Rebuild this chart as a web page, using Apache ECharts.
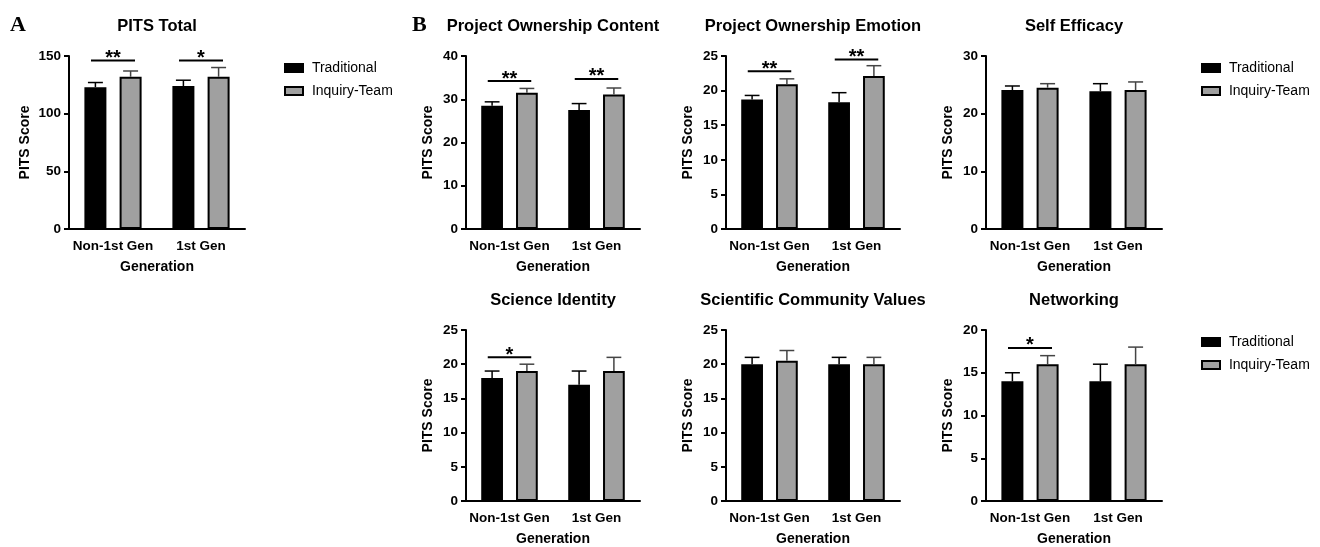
<!DOCTYPE html>
<html>
<head>
<meta charset="utf-8">
<script src="https://cdn.jsdelivr.net/npm/echarts@6/dist/echarts.min.js"></script>
<style>
  html, body { margin: 0; background: #fff; }
  #chart { width: 1320px; height: 547px; }
</style>
</head>
<body>
<div id="chart"></div>
<script>
const categories = ['Non-1st Gen', '1st Gen']
const panelTitles = ['PITS Total', 'Project Ownership Content', 'Project Ownership Emotion', 'Self Efficacy',
  'Science Identity', 'Scientific Community Values', 'Networking']
const tradMeans = [[123, 124], [28.5, 27.5], [18.7, 18.3], [24.1, 23.9], [18, 17], [20, 20], [14, 14]]
const tradErrors = [[4, 5], [0.9, 1.5], [0.6, 1.4], [0.7, 1.3], [1, 2], [1, 1], [1, 2]]
const inquiryMeans = [[132, 132], [31.5, 31.1], [20.9, 22.1], [24.5, 24.1], [19, 19], [20.5, 20], [16, 16]]
const inquiryErrors = [[5, 8], [1, 1.5], [0.8, 1.5], [0.7, 1.4], [1, 2], [1.5, 1], [1, 2]]
const yMax = [150, 40, 25, 30, 25, 25, 20]
const yStep = [50, 10, 5, 10, 5, 5, 5]
// significance brackets: label and height (in axis units) per category
const sigLabels = [['**', '*'], ['**', '**'], ['**', '**'], ['', ''], ['*', ''], ['', ''], ['*', '']]
const sigHeights = [[146, 146], [34.2, 34.7], [22.8, 24.5], [0, 0], [21, 0], [0, 0], [17.9, 0]]

const FONT = 'Liberation Sans, Arial, sans-serif'

// plot rectangles
const grids = [
  { left: 69, top: 56, width: 176, height: 173 },
  { left: 466, top: 56, width: 174, height: 173 },
  { left: 726, top: 56, width: 174, height: 173 },
  { left: 986, top: 56, width: 176, height: 173 },
  { left: 466, top: 330, width: 174, height: 174 },
  { left: 726, top: 330, width: 174, height: 174 },
  { left: 986, top: 330, width: 176, height: 174 }
]

const chart = echarts.init(document.getElementById('chart'))

const errorSeries = (i, means, errs, offset, color) => ({
  type: 'custom',
  xAxisIndex: i,
  yAxisIndex: i,
  z: 5,
  silent: true,
  data: means.map((m, k) => [k, m, errs[k]]),
  renderItem: (params, api) => {
    const base = api.coord([api.value(0), api.value(1)])
    const top = api.coord([api.value(0), api.value(1) + api.value(2)])
    const band = api.size([1, 0])[0]
    const x = base[0] + offset * band
    const cap = band * 0.085
    const style = { stroke: color, lineWidth: 1.5 }
    return {
      type: 'group',
      children: [
        { type: 'line', shape: { x1: x, y1: base[1], x2: x, y2: top[1] }, style },
        { type: 'line', shape: { x1: x - cap, y1: top[1], x2: x + cap, y2: top[1] }, style }
      ]
    }
  }
})

const bracketSeries = (i) => ({
  type: 'custom',
  xAxisIndex: i,
  yAxisIndex: i,
  z: 6,
  silent: true,
  data: sigLabels[i].map((lab, k) => [k, sigHeights[i][k], lab]).filter(d => d[2]),
  renderItem: (params, api) => {
    const p = api.coord([api.value(0), api.value(1)])
    const band = api.size([1, 0])[0]
    const half = band * 0.25
    return {
      type: 'group',
      children: [
        { type: 'line', shape: { x1: p[0] - half, y1: p[1], x2: p[0] + half, y2: p[1] },
          style: { stroke: '#000', lineWidth: 2 } },
        { type: 'text', x: p[0], y: p[1] - 2,
          style: { text: api.value(2), fill: '#000', font: 'bold 20px ' + FONT,
            textAlign: 'center', textVerticalAlign: 'middle' } }
      ]
    }
  }
})

const option = {
  backgroundColor: '#fff',
  animation: false,
  title: panelTitles.map((t, i) => ({
    text: t,
    left: grids[i].left + grids[i].width / 2,
    top: grids[i].top - 38,
    textAlign: 'center',
    padding: 0,
    textStyle: { fontFamily: FONT, fontSize: 16.5, fontWeight: 'bold', color: '#000' }
  })),
  legend: [
    { left: 284, top: 61 },
    { left: 1201, top: 61 },
    { left: 1201, top: 335 }
  ].map(pos => ({
    ...pos,
    orient: 'vertical',
    padding: 0,
    itemWidth: 18,
    itemHeight: 8,
    itemGap: 9,
    icon: 'rect',
    selectedMode: false,
    data: ['Traditional', 'Inquiry-Team'],
    formatter: name => ' ' + name,
    textStyle: { fontFamily: FONT, fontSize: 14, color: '#000' }
  })),
  graphic: [
    { type: 'text', left: 10, top: 14,
      style: { text: 'A', font: 'bold 22px Liberation Serif, serif', fill: '#000' } },
    { type: 'text', left: 412, top: 14,
      style: { text: 'B', font: 'bold 22px Liberation Serif, serif', fill: '#000' } }
  ],
  grid: grids,
  xAxis: grids.map((g, i) => ({
    type: 'category',
    gridIndex: i,
    data: categories,
    name: 'Generation',
    nameLocation: 'middle',
    nameGap: 31,
    nameTextStyle: { fontFamily: FONT, fontSize: 14, fontWeight: 'bold', color: '#000' },
    axisLine: { lineStyle: { color: '#000', width: 2 } },
    axisTick: { alignWithLabel: true, interval: 0, length: 5, lineStyle: { color: '#000', width: 2 } },
    axisLabel: { interval: 0, fontFamily: FONT, fontSize: 13.5, fontWeight: 'bold', color: '#000', margin: 10 }
  })),
  yAxis: grids.map((g, i) => ({
    type: 'value',
    gridIndex: i,
    min: 0,
    max: yMax[i],
    interval: yStep[i],
    name: 'PITS Score',
    nameLocation: 'middle',
    nameGap: i === 0 ? 37 : 31,
    nameTextStyle: { fontFamily: FONT, fontSize: 14, fontWeight: 'bold', color: '#000' },
    splitLine: { show: false },
    axisLine: { show: true, lineStyle: { color: '#000', width: 2 } },
    axisTick: { show: true, length: 5, lineStyle: { color: '#000', width: 2 } },
    axisLabel: { fontFamily: FONT, fontSize: 13.5, fontWeight: 'bold', color: '#000', margin: 8 }
  })),
  series: grids.flatMap((g, i) => [
    {
      name: 'Traditional',
      type: 'bar',
      xAxisIndex: i,
      yAxisIndex: i,
      barWidth: '25%',
      barGap: '60%',
      data: tradMeans[i],
      itemStyle: { color: '#000', borderColor: '#000', borderWidth: 2 }
    },
    {
      name: 'Inquiry-Team',
      type: 'bar',
      xAxisIndex: i,
      yAxisIndex: i,
      barWidth: '25%',
      barGap: '60%',
      data: inquiryMeans[i],
      itemStyle: { color: '#a0a0a0', borderColor: '#000', borderWidth: 2 }
    },
    errorSeries(i, tradMeans[i], tradErrors[i], -0.2, '#000'),
    errorSeries(i, inquiryMeans[i], inquiryErrors[i], 0.2, '#444'),
    bracketSeries(i)
  ])
}

chart.setOption(option)
</script>
</body>
</html>
